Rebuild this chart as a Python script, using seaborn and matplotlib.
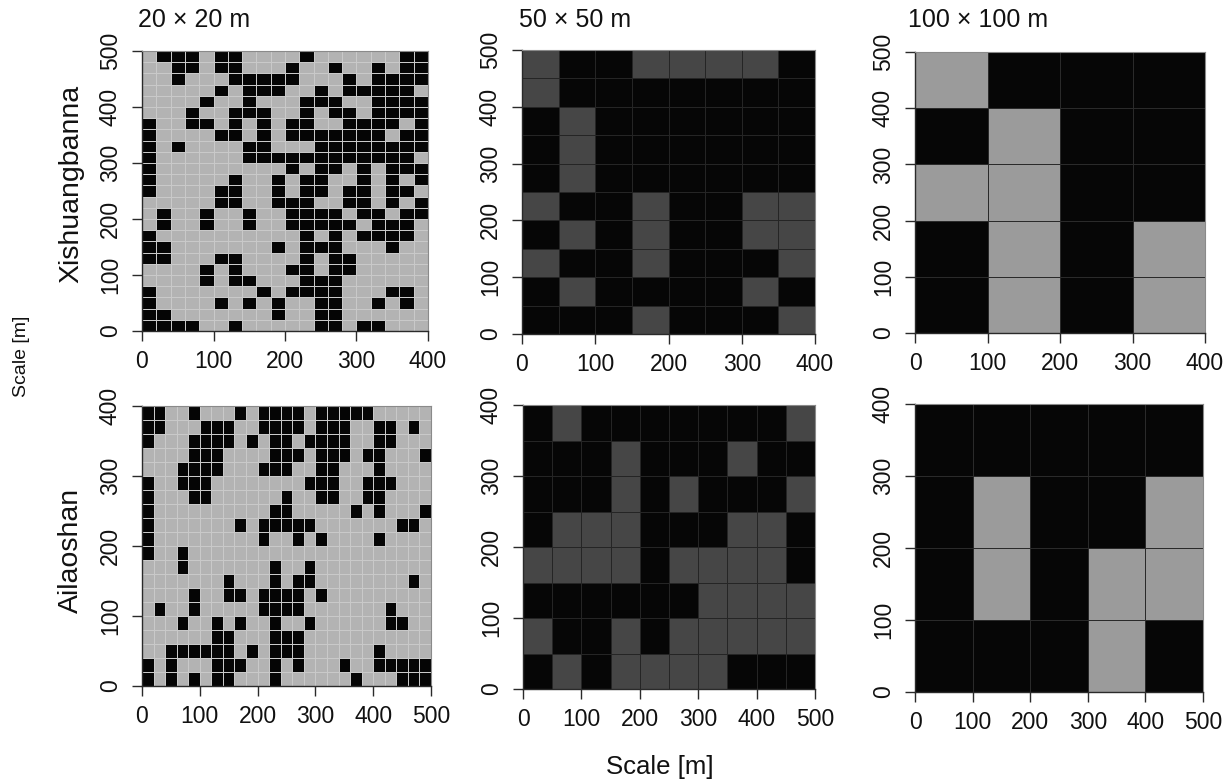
import numpy as np
import matplotlib
matplotlib.use("Agg")
import matplotlib.pyplot as plt
from matplotlib.colors import ListedColormap
import seaborn as sns

# ---------------- data ----------------
# 20 x 20 m grids: for every row (top to bottom) the column indices of black cells
xs20_black = [
    [1, 2, 3, 5, 6, 11, 18, 19],
    [2, 3, 5, 6, 10, 13, 16, 18, 19],
    [2, 6, 7, 8, 9, 10, 14, 16, 17, 18, 19],
    [5, 7, 8, 9, 12, 14, 15, 16, 17, 18],
    [4, 7, 11, 12, 13, 16, 17, 18, 19],
    [3, 6, 7, 8, 11, 13, 14, 16, 17, 18, 19],
    [0, 3, 4, 6, 8, 10, 11, 14, 15, 16, 17, 19],
    [0, 5, 6, 8, 10, 11, 12, 13, 14, 15, 16, 18, 19],
    [0, 2, 7, 8, 12, 13, 14, 15, 16, 17, 18, 19],
    [0, 7, 8, 9, 10, 11, 12, 13, 14, 15, 16, 17, 18],
    [0, 10, 12, 13, 15, 17, 18, 19],
    [0, 6, 9, 11, 12, 15, 17, 19],
    [0, 5, 6, 9, 11, 12, 14, 15, 17, 18],
    [5, 6, 9, 10, 11, 14, 15, 17, 19],
    [1, 4, 7, 10, 11, 12, 13, 15, 16, 18, 19],
    [1, 4, 7, 10, 11, 12, 13, 14, 16, 17, 18],
    [0, 11, 13, 15, 16, 17, 18],
    [0, 1, 9, 11, 12, 13, 17],
    [0, 1, 5, 6, 11, 13, 14],
    [4, 6, 10, 11, 13, 14],
    [4, 6, 7, 11, 12, 13],
    [0, 8, 10, 11, 12, 13, 17, 18],
    [0, 5, 7, 9, 12, 13, 16, 18],
    [0, 1, 9, 12, 13],
    [0, 1, 2, 3, 6, 12, 13, 15, 16],
]
al20_black = [
    [0, 1, 4, 8, 10, 11, 12, 13, 15, 16, 17, 18, 19],
    [0, 1, 5, 6, 7, 10, 11, 12, 13, 15, 16, 17, 20, 21, 23],
    [0, 4, 5, 6, 7, 9, 11, 12, 14, 15, 16, 17, 20, 21],
    [4, 5, 6, 11, 12, 13, 15, 16, 17, 19, 20, 24],
    [3, 4, 5, 6, 10, 11, 12, 15, 16, 20],
    [0, 3, 4, 5, 14, 15, 16, 19, 20, 21],
    [0, 4, 5, 12, 15, 16, 19, 20],
    [0, 11, 12, 18, 20, 24],
    [0, 8, 10, 11, 12, 13, 14, 22, 23],
    [0, 10, 13, 15, 20],
    [0, 3],
    [3, 11, 14],
    [7, 11, 13, 14, 23],
    [4, 7, 8, 10, 11, 12, 13, 15],
    [1, 4, 10, 11, 12, 13, 21],
    [3, 6, 8, 11, 14, 21, 22],
    [6, 7, 11, 12, 13],
    [2, 3, 4, 5, 6, 7, 9, 11, 12, 13, 20],
    [0, 2, 6, 7, 8, 11, 13, 17, 20, 21, 22, 23, 24],
    [0, 2, 4, 6, 7, 11, 18, 22, 23, 24],
]
# 50 x 50 m grids (1 = black, 0 = grey), rows top to bottom
xs50 = [
    [0, 1, 1, 0, 0, 0, 0, 1],
    [0, 1, 1, 1, 1, 1, 1, 1],
    [1, 0, 1, 1, 1, 1, 1, 1],
    [1, 0, 1, 1, 1, 1, 1, 1],
    [1, 0, 1, 1, 1, 1, 1, 1],
    [0, 1, 1, 0, 1, 1, 0, 0],
    [1, 0, 1, 0, 1, 1, 0, 0],
    [0, 1, 1, 0, 1, 1, 1, 0],
    [1, 0, 1, 1, 1, 1, 0, 1],
    [1, 1, 1, 0, 1, 1, 1, 0],
]
al50 = [
    [1, 0, 1, 1, 1, 1, 1, 1, 1, 0],
    [1, 1, 1, 0, 1, 1, 1, 0, 1, 1],
    [1, 1, 1, 0, 1, 0, 1, 1, 1, 0],
    [1, 0, 0, 0, 1, 1, 1, 0, 0, 1],
    [0, 0, 0, 0, 1, 0, 0, 0, 0, 1],
    [1, 1, 1, 1, 1, 1, 0, 0, 0, 0],
    [0, 1, 1, 0, 1, 0, 0, 0, 0, 0],
    [1, 0, 1, 0, 0, 0, 0, 1, 1, 1],
]
# 100 x 100 m grids
xs100 = [
    [0, 1, 1, 1],
    [1, 0, 1, 1],
    [0, 0, 1, 1],
    [1, 0, 1, 0],
    [1, 0, 1, 0],
]
al100 = [
    [1, 1, 1, 1, 1],
    [1, 0, 1, 1, 0],
    [1, 0, 1, 0, 0],
    [1, 1, 1, 0, 1],
]
scales = ["20 \u00d7 20 m", "50 \u00d7 50 m", "100 \u00d7 100 m"]
sites = ["Xishuangbanna", "Ailaoshan"]
axis_label = "Scale [m]"


def to_grid(black_rows, ncols):
    g = np.zeros((len(black_rows), ncols))
    for r, idx in enumerate(black_rows):
        g[r, idx] = 1
    return g


# ---------------- figure ----------------
sns.set_style("white")
plt.rcParams["font.family"] = ["Liberation Sans", "DejaVu Sans"]

W, H = 1225, 784
fig = plt.figure(figsize=(W / 100, H / 100), dpi=100)


def px_axes(l, t, r, b):
    return fig.add_axes([l / W, 1 - b / H, (r - l) / W, (b - t) / H])


def draw(ax, grid, colors, cell, lc, lw):
    grid = np.asarray(grid, dtype=float)
    nr, nc = grid.shape
    xmax, ymax = nc * cell, nr * cell
    sns.heatmap(grid, ax=ax, cmap=ListedColormap(colors), vmin=0, vmax=1,
                cbar=False, linewidths=lw, linecolor=lc,
                xticklabels=False, yticklabels=False)
    xt = np.arange(0, xmax + 1, 100)
    yt = np.arange(0, ymax + 1, 100)
    ax.set_xticks(xt / cell)
    ax.set_xticklabels([str(v) for v in xt])
    ax.set_yticks((ymax - yt) / cell)
    ax.set_yticklabels([str(v) for v in yt], rotation=90, va="center")
    ax.tick_params(axis="both", which="both", direction="out", length=7.5,
                   width=1.0, color="#2a2a2a", labelsize=16.5,
                   bottom=True, left=True, labelcolor="#111111")
    ax.tick_params(axis="x", pad=6)
    ax.tick_params(axis="y", pad=7)
    for name, sp in ax.spines.items():
        sp.set_visible(True)
        if name in ("left", "bottom"):
            sp.set_color("#2a2a2a")
            sp.set_linewidth(1.0)
        else:
            sp.set_color("#8a8a8a")
            sp.set_linewidth(0.8)


light = ["#b3b3b3", "#050505"]
mid = ["#464646", "#060606"]
right = ["#9b9b9b", "#060606"]

ax = px_axes(142, 51, 428, 331)
draw(ax, to_grid(xs20_black, 20), light, 20, "#c9c9c9", 0.6)
ax = px_axes(522, 50, 815, 334)
draw(ax, xs50, mid, 50, "#252525", 0.5)
ax = px_axes(915, 52, 1205, 333)
draw(ax, xs100, right, 100, "#2a2a2a", 0.6)

ax = px_axes(142, 406, 431, 686)
draw(ax, to_grid(al20_black, 25), light, 20, "#c9c9c9", 0.6)
ax = px_axes(523, 405, 815, 689)
draw(ax, al50, mid, 50, "#252525", 0.5)
ax = px_axes(915, 404, 1203, 692)
draw(ax, al100, right, 100, "#2a2a2a", 0.6)

# titles
for x, s in zip([138, 519, 908], scales):
    fig.text(x / W, 1 - 20 / H, s, ha="left", va="center", fontsize=18,
             color="#111111")

# site labels
fig.text(71 / W, 1 - 184 / H, sites[0], rotation=90, ha="center",
         va="center", fontsize=20.5, color="#111111")
fig.text(71 / W, 1 - 550 / H, sites[1], rotation=90, ha="center",
         va="center", fontsize=20.5, color="#111111")

# shared axis labels
fig.text(22 / W, 1 - 356 / H, axis_label, rotation=90, ha="center",
         va="center", fontsize=14, color="#111111")
fig.text(660 / W, 1 - 767 / H, axis_label, ha="center", va="center",
         fontsize=18.5, color="#111111")

fig.savefig("out.png", dpi=100, facecolor="white")
